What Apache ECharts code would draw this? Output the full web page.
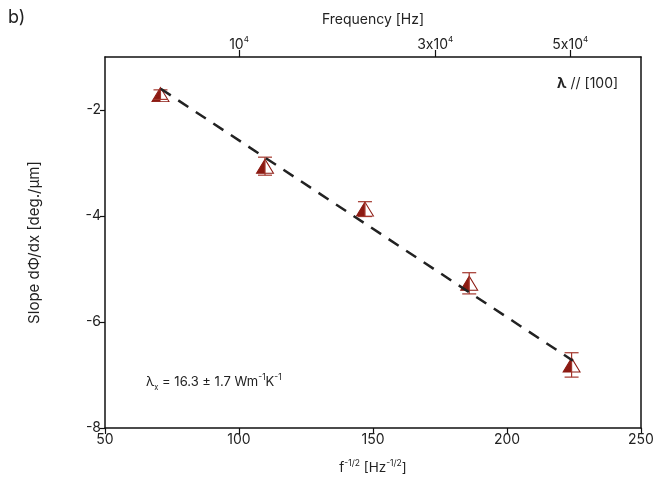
<!DOCTYPE html>
<html>
<head>
<meta charset="utf-8">
<script src="https://cdn.jsdelivr.net/npm/echarts@6/dist/echarts.min.js"></script>
<style>html,body{margin:0;padding:0;background:#fff}#c{width:667px;height:481px}</style>
</head>
<body>
<div id="c"></div>
<script>
// ---- data ----
var sqrtF = [70.7, 109.7, 147.0, 185.9, 224.1];
var slope = [-1.71, -3.06, -3.87, -5.27, -6.81];
var slopeErr = [0.09, 0.17, 0.14, 0.20, 0.23];
var fitX = [70.8, 224.6];
var fitY = [-1.60, -6.73];
var xTicks = [50, 100, 150, 200, 250];
var yTicks = [-8, -6, -4, -2];
var freqTicks = [1e4, 3e4, 5e4];
var freqLabels = ['{n|10}{s|4}', '{n|3}{n|x}{n|10}{s|4}', '{n|5}{n|x}{n|10}{s|4}'];

var FONT = 'Inter, "Noto Sans", sans-serif';
var RED = '#8c1a12';
var ERR = '#a3362c';
var TXT = '#222';

var freqPos = freqTicks.map(function (f) { return Math.sqrt(f); });

var chart = echarts.init(document.getElementById('c'), null, {renderer: 'canvas'});

var supRich = {
  n: {fontSize: 14, fontFamily: FONT, color: TXT, lineHeight: 17},
  s: {fontSize: 8, fontFamily: FONT, color: TXT, verticalAlign: 'top', lineHeight: 17, padding: [0, 0, 7, 0]}
};

chart.setOption({
  animation: false,
  textStyle: {fontFamily: FONT},
  grid: {left: 105, right: 26, top: 57, bottom: 53},
  xAxis: [{
    type: 'value', position: 'bottom', min: 50, max: 250,
    axisLine: {lineStyle: {color: '#111', width: 1.5}},
    axisTick: {show: true, inside: false, length: 6, customValues: xTicks, lineStyle: {color: '#111', width: 1.2}},
    axisLabel: {customValues: xTicks, fontSize: 14, color: TXT, fontFamily: FONT, margin: 5},
    splitLine: {show: false},
    name: '{n|f}{s|-1/2}{n| [Hz}{s|-1/2}{n|]}',
    nameLocation: 'middle', nameGap: 31,
    nameTextStyle: {rich: {
      n: {fontSize: 13.5, fontFamily: FONT, color: TXT, lineHeight: 17},
      s: {fontSize: 8.5, fontFamily: FONT, color: TXT, verticalAlign: 'top', lineHeight: 17, padding: [0, 0, 7, 0]}
    }}
  }, {
    type: 'value', position: 'top', min: 50, max: 250,
    axisLine: {lineStyle: {color: '#111', width: 1.5}},
    axisTick: {show: true, inside: false, length: 7, customValues: freqPos, lineStyle: {color: '#111', width: 1.2}},
    axisLabel: {
      customValues: freqPos, margin: 4,
      formatter: function (v) {
        for (var i = 0; i < freqPos.length; i++) { if (Math.abs(freqPos[i] - v) < 1e-6) return freqLabels[i]; }
        return '';
      },
      rich: supRich
    },
    splitLine: {show: false},
    name: 'Frequency [Hz]', nameLocation: 'middle', nameGap: 30,
    nameTextStyle: {fontSize: 14, color: TXT, fontFamily: FONT}
  }],
  yAxis: [{
    type: 'value', position: 'left', min: -8, max: -1,
    axisLine: {show: true, lineStyle: {color: '#111', width: 1.5}},
    axisTick: {show: true, inside: false, length: 5, customValues: yTicks, lineStyle: {color: '#111', width: 1.2}},
    axisLabel: {customValues: yTicks, fontSize: 14, color: TXT, fontFamily: FONT, margin: 4},
    splitLine: {show: false},
    name: 'Slope dΦ/dx [deg./μm]', nameLocation: 'middle', nameGap: 63,
    nameTextStyle: {fontSize: 15, color: TXT, fontFamily: FONT}
  }, {
    type: 'value', position: 'right', min: -8, max: -1,
    axisLine: {show: true, lineStyle: {color: '#111', width: 1.5}},
    axisTick: {show: false}, axisLabel: {show: false}, splitLine: {show: false}
  }],
  graphic: [
    {type: 'text', left: 8, top: 9, style: {text: 'b)', fontSize: 18, fill: TXT, fontFamily: FONT}},
    {type: 'text', left: 557, top: 77, style: {
      text: '{b|λ} // [100]', fontSize: 14, fill: TXT, fontFamily: FONT,
      rich: {b: {fontWeight: 'bold', fontSize: 14, fontFamily: FONT, fill: TXT}}
    }},
    {type: 'text', left: 146, top: 373, style: {
      text: '{n|λ}{x|x}{n| = 16.3 ± 1.7 Wm}{s|-1}{n|K}{s|-1}', fill: TXT,
      rich: {
        n: {fontSize: 13, fontFamily: FONT, fill: TXT, lineHeight: 19},
        x: {fontSize: 7.5, fontFamily: FONT, fill: TXT, verticalAlign: 'bottom', lineHeight: 19},
        s: {fontSize: 8.5, fontFamily: FONT, fill: TXT, verticalAlign: 'top', lineHeight: 19, padding: [0, 0, 8, 0]}
      }
    }}
  ],
  series: [{
    type: 'scatter', xAxisIndex: 0, yAxisIndex: 0, z: 2,
    symbol: 'triangle', symbolSize: [17, 14],
    itemStyle: {color: '#fff', borderColor: RED, borderWidth: 1, opacity: 1},
    data: sqrtF.map(function (x, i) { return [x, slope[i]]; })
  }, {
    type: 'scatter', xAxisIndex: 0, yAxisIndex: 0, z: 3,
    symbol: 'path://M1,0L0,2L1,2Z', symbolSize: [8.5, 14], symbolOffset: [-4.25, 0],
    itemStyle: {color: RED, opacity: 1},
    data: sqrtF.map(function (x, i) { return [x, slope[i]]; })
  }, {
    type: 'custom', xAxisIndex: 0, yAxisIndex: 0, z: 4,
    data: sqrtF.map(function (x, i) { return [x, slope[i] - slopeErr[i], slope[i] + slopeErr[i]]; }),
    renderItem: function (params, api) {
      var lo = api.coord([api.value(0), api.value(1)]);
      var hi = api.coord([api.value(0), api.value(2)]);
      var hw = 7;
      var st = {stroke: ERR, lineWidth: 1.2};
      return {type: 'group', children: [
        {type: 'line', shape: {x1: lo[0], y1: lo[1], x2: hi[0], y2: hi[1]}, style: st},
        {type: 'line', shape: {x1: lo[0] - hw, y1: lo[1], x2: lo[0] + hw, y2: lo[1]}, style: st},
        {type: 'line', shape: {x1: hi[0] - hw, y1: hi[1], x2: hi[0] + hw, y2: hi[1]}, style: st}
      ]};
    }
  }, {
    type: 'line', xAxisIndex: 0, yAxisIndex: 0, z: 5,
    symbol: 'none', silent: true,
    lineStyle: {color: '#222', width: 2.5, type: [12, 9]},
    data: fitX.map(function (x, i) { return [x, fitY[i]]; })
  }]
});
</script>
</body>
</html>
